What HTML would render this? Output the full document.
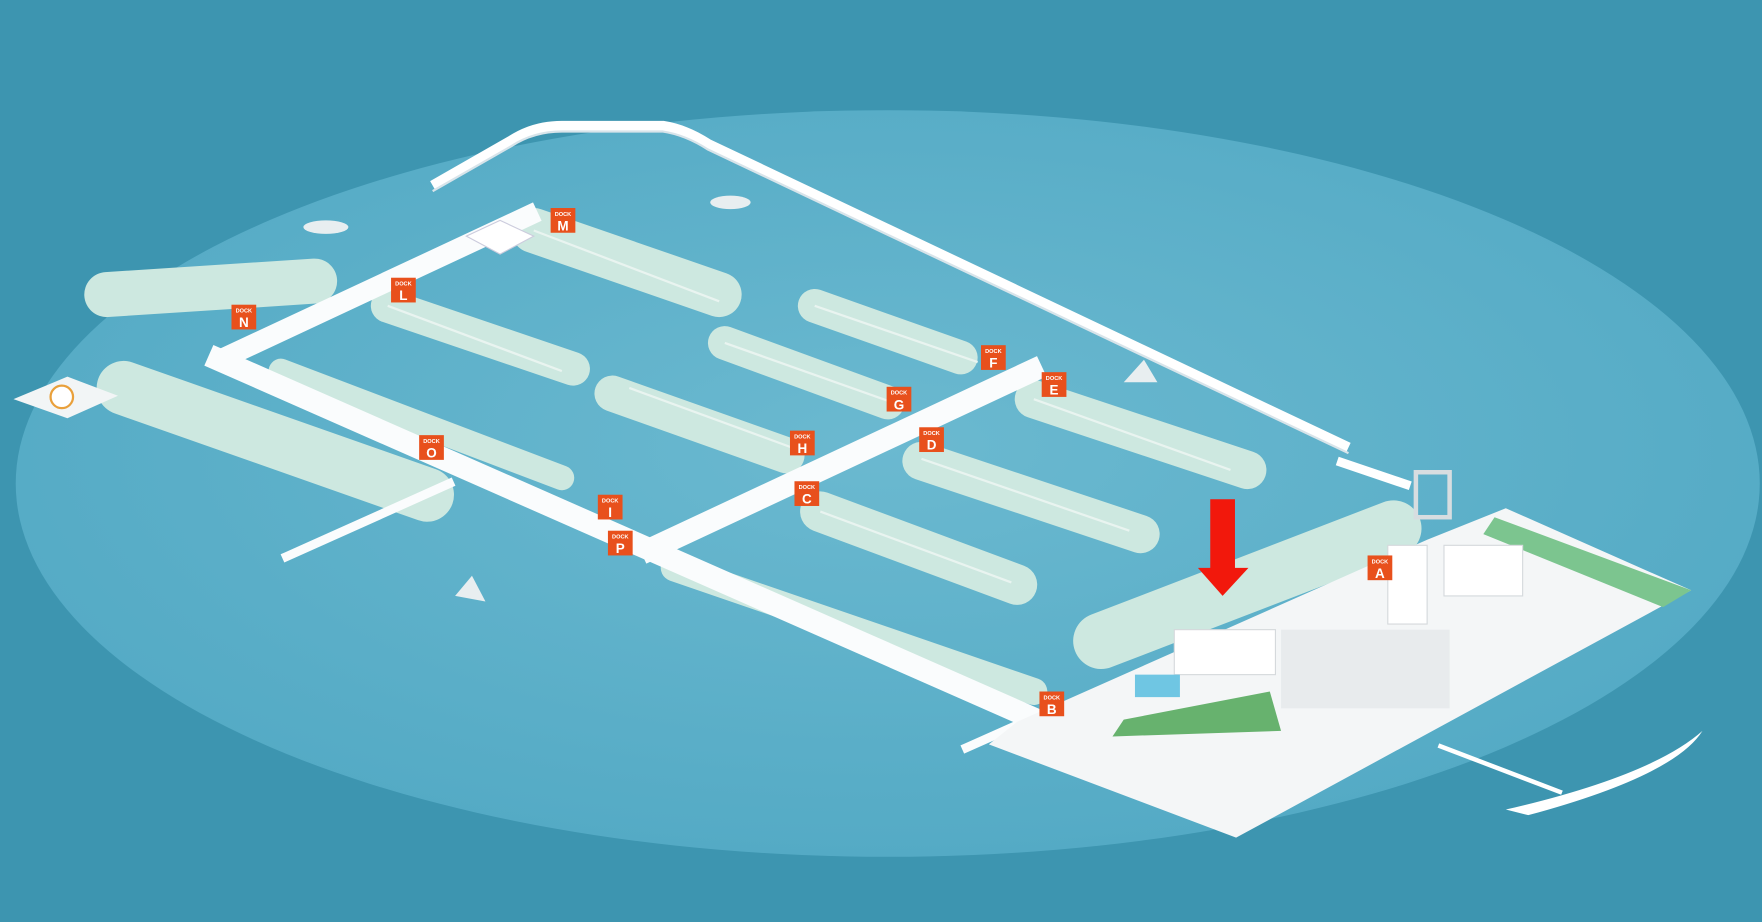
<!DOCTYPE html>
<html><head><meta charset="utf-8"><style>
html,body{margin:0;padding:0;background:#3d95b0;width:1762px;height:922px;overflow:hidden}
svg{display:block}
text{font-family:"Liberation Sans",sans-serif;fill:#fff;font-weight:bold;text-anchor:middle}
</style></head><body>
<svg width="1762" height="922" viewBox="0 0 1568 820" preserveAspectRatio="none" xmlns="http://www.w3.org/2000/svg">
<defs>
<radialGradient id="w" cx="0.5" cy="0.45" r="0.6">
<stop offset="0" stop-color="#6bb9d0"/><stop offset="1" stop-color="#52a9c4"/></radialGradient>
</defs>
<rect width="1568" height="820" fill="#3d95b0"/>
<ellipse cx="790" cy="430" rx="776" ry="332" fill="url(#w)"/>
<path d="M385,165 L455,125 Q475,112 500,112 L590,112 Q610,115 630,128 L1200,398" fill="none" stroke="#fff" stroke-width="9" stroke-linejoin="round"/>
<path d="M385,165 L455,125 Q475,112 500,112 L590,112 Q610,115 630,128 L1200,398" fill="none" stroke="#d8e4ea" stroke-width="2" transform="translate(0,5)"/>
<line x1="1190" y1="410" x2="1255" y2="432" stroke="#fff" stroke-width="8"/>
<g stroke="#cde8e0" stroke-linecap="round">
<line x1="95" y1="262" x2="280" y2="250" stroke-width="40"/>
<line x1="110" y1="345" x2="380" y2="440" stroke-width="48"/>
<line x1="475" y1="205" x2="640" y2="262" stroke-width="40"/>
<line x1="345" y1="272" x2="510" y2="328" stroke-width="30"/>
<line x1="250" y1="330" x2="500" y2="425" stroke-width="22"/>
<line x1="725" y1="272" x2="855" y2="318" stroke-width="30"/>
<line x1="645" y1="305" x2="790" y2="358" stroke-width="30"/>
<line x1="545" y1="350" x2="700" y2="405" stroke-width="32"/>
<line x1="920" y1="355" x2="1110" y2="418" stroke-width="34"/>
<line x1="820" y1="410" x2="1015" y2="475" stroke-width="34"/>
<line x1="730" y1="455" x2="905" y2="520" stroke-width="36"/>
<line x1="600" y1="505" x2="920" y2="615" stroke-width="24"/>
<line x1="980" y1="570" x2="1240" y2="470" stroke-width="50"/>
</g>
<g stroke="#e9f4f0" stroke-width="2">
<line x1="475" y1="205" x2="640" y2="268"/><line x1="345" y1="272" x2="500" y2="330"/>
<line x1="725" y1="272" x2="870" y2="322"/><line x1="645" y1="305" x2="800" y2="360"/>
<line x1="560" y1="345" x2="710" y2="400"/><line x1="920" y1="355" x2="1095" y2="418"/>
<line x1="820" y1="408" x2="1005" y2="472"/><line x1="730" y1="455" x2="900" y2="518"/>
</g>
<g stroke="#fafcfd" stroke-linecap="square">
<line x1="195" y1="320" x2="940" y2="648" stroke-width="20"/>
<line x1="200" y1="318" x2="470" y2="192" stroke-width="18"/>
<line x1="580" y1="488" x2="918" y2="330" stroke-width="20"/>
<line x1="255" y1="495" x2="400" y2="430" stroke-width="8"/>
<line x1="860" y1="665" x2="905" y2="645" stroke-width="8"/>
</g>
<polygon points="415,210 445,196 475,210 445,226" fill="#fff" stroke="#ccd"/>
<polygon points="12,355 60,335 105,352 60,372" fill="#f2f5f6"/>
<circle cx="55" cy="353" r="10" fill="#fff" stroke="#e9a03b" stroke-width="2"/>
<polygon points="905,642 1180,520 1270,480 1340,452 1505,525 1100,745 880,662" fill="#f4f6f7"/>
<polygon points="1330,460 1505,525 1480,540 1320,475" fill="#7cc58f"/>
<polygon points="1000,640 1130,615 1140,650 990,655" fill="#67b26e"/>
<rect x="1045" y="560" width="90" height="40" fill="#fff" stroke="#d5d9dc"/>
<rect x="1140" y="560" width="150" height="70" fill="#e8ebed"/>
<rect x="1285" y="485" width="70" height="45" fill="#fff" stroke="#d5d9dc"/>
<rect x="1235" y="485" width="35" height="70" fill="#fff" stroke="#d5d9dc"/>
<rect x="1010" y="600" width="40" height="20" fill="#6fc6e3"/>
<rect x="1260" y="420" width="30" height="40" fill="none" stroke="#d7dde0" stroke-width="4"/>
<path d="M1340,720 Q1470,690 1515,650 Q1490,690 1360,725 Z" fill="#fff"/>
<line x1="1280" y1="663" x2="1390" y2="705" stroke="#fff" stroke-width="4"/>
<polygon points="1000,340 1030,340 1018,320" fill="#e8eef0"/>
<polygon points="405,530 432,535 420,512" fill="#e8eef0"/>
<ellipse cx="650" cy="180" rx="18" ry="6" fill="#e8eef0"/>
<ellipse cx="290" cy="202" rx="20" ry="6" fill="#e8eef0"/>
<rect x="1077" y="444" width="22" height="62" fill="#f2180c"/>
<polygon points="1066,505 1111,505 1088,530" fill="#f2180c"/>
<g>
<g transform="translate(490,185)"><rect width="22" height="22" fill="#e8501c"/><text x="11" y="7" font-size="5">DOCK</text><text x="11" y="20" font-size="12">M</text></g>
<g transform="translate(348,247)"><rect width="22" height="22" fill="#e8501c"/><text x="11" y="7" font-size="5">DOCK</text><text x="11" y="20" font-size="12">L</text></g>
<g transform="translate(206,271)"><rect width="22" height="22" fill="#e8501c"/><text x="11" y="7" font-size="5">DOCK</text><text x="11" y="20" font-size="12">N</text></g>
<g transform="translate(873,307)"><rect width="22" height="22" fill="#e8501c"/><text x="11" y="7" font-size="5">DOCK</text><text x="11" y="20" font-size="12">F</text></g>
<g transform="translate(927,331)"><rect width="22" height="22" fill="#e8501c"/><text x="11" y="7" font-size="5">DOCK</text><text x="11" y="20" font-size="12">E</text></g>
<g transform="translate(789,344)"><rect width="22" height="22" fill="#e8501c"/><text x="11" y="7" font-size="5">DOCK</text><text x="11" y="20" font-size="12">G</text></g>
<g transform="translate(818,380)"><rect width="22" height="22" fill="#e8501c"/><text x="11" y="7" font-size="5">DOCK</text><text x="11" y="20" font-size="12">D</text></g>
<g transform="translate(703,383)"><rect width="22" height="22" fill="#e8501c"/><text x="11" y="7" font-size="5">DOCK</text><text x="11" y="20" font-size="12">H</text></g>
<g transform="translate(373,387)"><rect width="22" height="22" fill="#e8501c"/><text x="11" y="7" font-size="5">DOCK</text><text x="11" y="20" font-size="12">O</text></g>
<g transform="translate(707,428)"><rect width="22" height="22" fill="#e8501c"/><text x="11" y="7" font-size="5">DOCK</text><text x="11" y="20" font-size="12">C</text></g>
<g transform="translate(532,440)"><rect width="22" height="22" fill="#e8501c"/><text x="11" y="7" font-size="5">DOCK</text><text x="11" y="20" font-size="12">I</text></g>
<g transform="translate(541,472)"><rect width="22" height="22" fill="#e8501c"/><text x="11" y="7" font-size="5">DOCK</text><text x="11" y="20" font-size="12">P</text></g>
<g transform="translate(1217,494)"><rect width="22" height="22" fill="#e8501c"/><text x="11" y="7" font-size="5">DOCK</text><text x="11" y="20" font-size="12">A</text></g>
<g transform="translate(925,615)"><rect width="22" height="22" fill="#e8501c"/><text x="11" y="7" font-size="5">DOCK</text><text x="11" y="20" font-size="12">B</text></g>
</g>
</svg>
</body></html>
